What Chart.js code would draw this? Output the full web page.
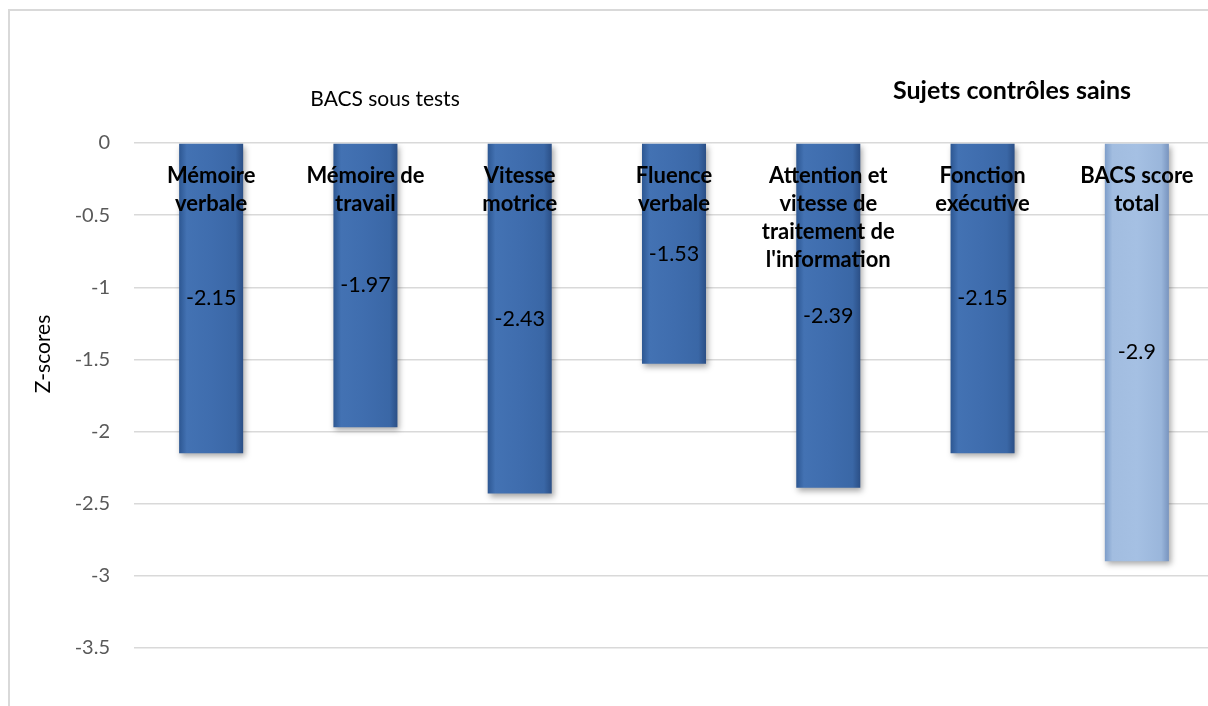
<!DOCTYPE html>
<html>
<head>
<meta charset="utf-8">
<script src="https://cdn.jsdelivr.net/npm/chart.js@4/dist/chart.umd.min.js"></script>
<style>
  html, body { margin: 0; padding: 0; background: #fff; overflow: hidden; }
  #wrap { position: absolute; left: 0; top: 0; width: 1240px; height: 760px; }
</style>
</head>
<body>
<div id="wrap"><canvas id="bacsChart" width="1240" height="760"></canvas></div>
<script>
// data
const categories = [
    ['Mémoire', 'verbale'],
    ['Mémoire de', 'travail'],
    ['Vitesse', 'motrice'],
    ['Fluence', 'verbale'],
    ['Attention et', 'vitesse de', 'traitement de', "l'information"],
    ['Fonction', 'exécutive'],
    ['BACS score', 'total']
];
const zScores = [-2.15, -1.97, -2.43, -1.53, -2.39, -2.15, -2.9];
const yTicks = [0, -0.5, -1, -1.5, -2, -2.5, -3, -3.5, -4];

const FONT = 'Lato, "Liberation Sans", sans-serif';

document.addEventListener('DOMContentLoaded', function () {
    const canvas = document.getElementById('bacsChart');

    if (!canvas || typeof Chart === 'undefined') {
        return;
    }

    // bevelled bar fill, like the old office charts
    function barFill(context) {
        const chart = context.chart;
        const xs = chart.scales.x;
        if (!xs || !chart.chartArea) {
            return '#3F6DAD';
        }
        const cx = xs.getPixelForValue(context.dataIndex);
        const half = (xs.width / categories.length) * 0.415 / 2;
        const g = chart.ctx.createLinearGradient(cx - half, 0, cx + half, 0);
        const last = context.dataIndex === zScores.length - 1;
        if (last) {
            g.addColorStop(0, '#7D9DC9');
            g.addColorStop(0.12, '#A2BDE0');
            g.addColorStop(0.5, '#A5C0E3');
            g.addColorStop(0.88, '#9AB6DB');
            g.addColorStop(1, '#7894BF');
        } else {
            g.addColorStop(0, '#2D5792');
            g.addColorStop(0.12, '#4372B3');
            g.addColorStop(0.5, '#3F6DAE');
            g.addColorStop(0.88, '#3A67A6');
            g.addColorStop(1, '#2B4F86');
        }
        return g;
    }

    const decorations = {
        id: 'decorations',
        beforeDraw(chart) {
            const ctx = chart.ctx;
            ctx.save();
            ctx.strokeStyle = '#d9d9d9';
            ctx.lineWidth = 2;
            ctx.beginPath();
            ctx.moveTo(9, 800);
            ctx.lineTo(9, 10);
            ctx.lineTo(1300, 10);
            ctx.stroke();

            ctx.fillStyle = '#000';
            ctx.textAlign = 'center';
            ctx.textBaseline = 'middle';
            ctx.font = '21px ' + FONT;
            ctx.fillText('BACS sous tests', 385, 99);
            ctx.font = 'bold 25px ' + FONT;
            ctx.fillText('Sujets contrôles sains', 1012, 91);

            ctx.translate(43, 354);
            ctx.rotate(-Math.PI / 2);
            ctx.font = '21px ' + FONT;
            ctx.fillText('Z-scores', 0, 0);
            ctx.restore();
        },
        beforeDatasetsDraw(chart) {
            const ctx = chart.ctx;
            ctx.save();
            ctx.shadowColor = 'rgba(0,0,0,0.35)';
            ctx.shadowBlur = 6;
            ctx.shadowOffsetX = 2;
            ctx.shadowOffsetY = 3;
        },
        afterDatasetsDraw(chart) {
            const ctx = chart.ctx;
            ctx.restore();
            const meta = chart.getDatasetMeta(0);
            ctx.save();
            ctx.fillStyle = '#000';
            ctx.textAlign = 'center';
            ctx.textBaseline = 'middle';
            meta.data.forEach(function (bar, i) {
                // category name near the top of the bar
                ctx.font = 'bold 22px ' + FONT;
                categories[i].forEach(function (line, k) {
                    ctx.fillText(line, bar.x, bar.base + 32 + k * 28);
                });
                // value in the middle of the bar
                ctx.font = '21.5px ' + FONT;
                ctx.fillText(String(zScores[i]), bar.x, (bar.y + bar.base) / 2);
            });
            ctx.restore();
        }
    };

    new Chart(canvas, {
        type: 'bar',
        data: {
            labels: categories.map(function (c) { return c.join(' '); }),
            datasets: [{
                label: 'Sujets contrôles sains',
                data: zScores,
                backgroundColor: barFill,
                borderWidth: 0,
                categoryPercentage: 1,
                barPercentage: 0.415
            }]
        },
        options: {
            responsive: false,
            animation: false,
            layout: {
                padding: { left: 28, top: 143, right: 26, bottom: 40 }
            },
            plugins: {
                legend: { display: false },
                tooltip: { enabled: false }
            },
            scales: {
                x: {
                    display: false
                },
                y: {
                    min: -4,
                    max: 0,
                    afterFit: function (scale) {
                        scale.width = 106;
                    },
                    afterBuildTicks: function (scale) {
                        scale.ticks = yTicks.map(function (v) { return { value: v }; });
                    },
                    ticks: {
                        padding: 24,
                        color: '#595959',
                        font: { family: FONT, size: 20 },
                        callback: function (v) { return String(v); }
                    },
                    grid: {
                        color: '#d9d9d9',
                        lineWidth: 1.5,
                        drawTicks: false
                    },
                    border: { display: false }
                }
            }
        },
        plugins: [decorations]
    });
});
</script>
</body>
</html>
